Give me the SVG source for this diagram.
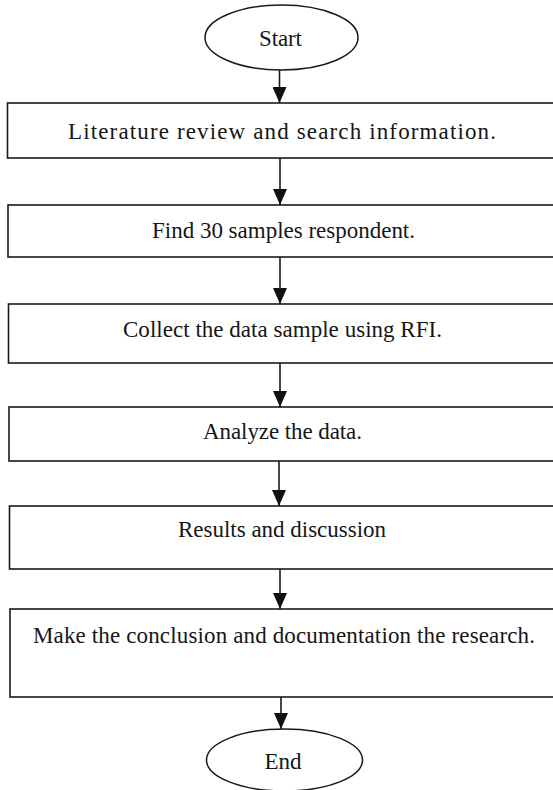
<svg xmlns="http://www.w3.org/2000/svg" width="553" height="790" viewBox="0 0 553 790">
  <defs>
    <style>
      .box { fill: #ffffff; stroke: #1a1a1a; stroke-width: 1.6; }
      .term { fill: #ffffff; stroke: #1a1a1a; stroke-width: 1.5; }
      .lbl { font-family: "Liberation Serif", "Times New Roman", serif; font-size: 23px; fill: #161616; text-anchor: middle; }
      .conn line { stroke: #1a1a1a; stroke-width: 1.6; }
    </style>
    <marker id="arr" viewBox="0 0 16 14" refX="16" refY="7" markerWidth="16" markerHeight="14" markerUnits="userSpaceOnUse" orient="auto">
      <path d="M0,0 L16,7 L0,14 Z" fill="#111"/>
    </marker>
  </defs>
  <rect width="553" height="790" fill="#ffffff"/>

  <g id="start">
    <ellipse class="term" cx="281.5" cy="37.5" rx="76.5" ry="32.5"/>
    <text class="lbl" x="280.5" y="45.5" textLength="43" lengthAdjust="spacing">Start</text>
  </g>

  <g id="step1">
    <rect class="box" x="7.5" y="103" width="548.5" height="55"/>
    <text class="lbl" x="282" y="138.5" textLength="428" lengthAdjust="spacing">Literature review and search information.</text>
  </g>

  <g id="step2">
    <rect class="box" x="8" y="205" width="548" height="52"/>
    <text class="lbl" x="283.5" y="238" textLength="263" lengthAdjust="spacing">Find 30 samples respondent.</text>
  </g>

  <g id="step3">
    <rect class="box" x="8.5" y="304" width="547.5" height="59"/>
    <text class="lbl" x="282.5" y="337" textLength="319" lengthAdjust="spacing">Collect the data sample using RFI.</text>
  </g>

  <g id="step4">
    <rect class="box" x="9" y="407" width="547" height="54"/>
    <text class="lbl" x="282.5" y="439" textLength="159" lengthAdjust="spacing">Analyze the data.</text>
  </g>

  <g id="step5">
    <rect class="box" x="9.5" y="506" width="546.5" height="63"/>
    <text class="lbl" x="282" y="537" textLength="208" lengthAdjust="spacing">Results and discussion</text>
  </g>

  <g id="step6">
    <rect class="box" x="10" y="609" width="546" height="88"/>
    <text class="lbl" x="284" y="643" textLength="502" lengthAdjust="spacing">Make the conclusion and documentation the research.</text>
  </g>

  <g id="end">
    <ellipse class="term" cx="284.5" cy="760" rx="78" ry="31"/>
    <text class="lbl" x="283" y="768.5">End</text>
  </g>

  <g id="connectors" class="conn">
    <line x1="279.5" y1="70" x2="279.5" y2="103" marker-end="url(#arr)"/>
    <line x1="280" y1="158" x2="280" y2="205" marker-end="url(#arr)"/>
    <line x1="280" y1="257" x2="280" y2="304" marker-end="url(#arr)"/>
    <line x1="280" y1="363" x2="280" y2="407" marker-end="url(#arr)"/>
    <line x1="279" y1="461" x2="279" y2="506" marker-end="url(#arr)"/>
    <line x1="280" y1="569" x2="280" y2="609" marker-end="url(#arr)"/>
    <line x1="281" y1="697" x2="281" y2="729" marker-end="url(#arr)"/>
  </g>
</svg>
